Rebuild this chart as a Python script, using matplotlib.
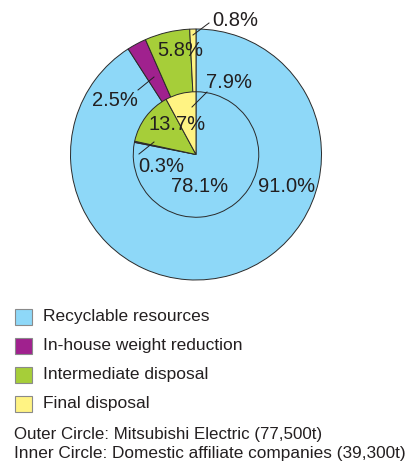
#!/usr/bin/python3

import matplotlib
matplotlib.use('Agg')
import matplotlib.pyplot as plt
from matplotlib.patches import Rectangle

# waste treatment breakdown (%)
categories = ['Recyclable resources', 'In-house weight reduction',
              'Intermediate disposal', 'Final disposal']
outer_values = [91.0, 2.5, 5.8, 0.8]   # Mitsubishi Electric
inner_values = [78.1, 0.3, 13.7, 7.9]  # domestic affiliates
colors = ['#8ED8F8', '#A0218E', '#A6CE39', '#FFF383']
footer = ['Outer Circle: Mitsubishi Electric (77,500t)',
          'Inner Circle: Domestic affiliate companies (39,300t)']

W, H = 408, 462
TXT = '#231F20'
EDGE = '#2a2a2a'


def main():
    '''draw the double pie'''
    plt.rcParams['font.family'] = ['Liberation Sans', 'DejaVu Sans']
    fig = plt.figure(figsize=(W / 100, H / 100), dpi=100)

    # pie axes: centre (196, 154.5) px, outer radius 125.5 px
    cx, cy, r = 196.0, 154.5, 125.5
    lim = 1.04
    half = lim * r
    ax = fig.add_axes([(cx - half) / W, (H - cy - half) / H,
                       2 * half / W, 2 * half / H])
    wp = dict(edgecolor=EDGE, linewidth=0.7)
    ax.pie(outer_values, colors=colors, radius=1.0, startangle=90,
           counterclock=False, wedgeprops=wp)
    ax.pie(inner_values, colors=colors, radius=0.5, startangle=90,
           counterclock=False, wedgeprops=wp)
    ax.set_xlim(-lim, lim)
    ax.set_ylim(-lim, lim)
    ax.set_aspect('equal')
    ax.axis('off')

    # overlay in pixel coordinates for labels, legend and footer
    ov = fig.add_axes([0, 0, 1, 1])
    ov.set_xlim(0, W)
    ov.set_ylim(H, 0)
    ov.axis('off')
    ov.patch.set_alpha(0)

    # percentage labels
    outer_pos = [(287, 187), (115, 100), (180, 51), (235, 20)]
    inner_pos = [(200, 187), (161, 166), (177, 125), (229, 83)]
    for v, (x, y) in zip(outer_values, outer_pos):
        ov.text(x, y, f'{v:.1f}%', fontsize=14.5, color=TXT,
                ha='center', va='center')
    for v, (x, y) in zip(inner_values, inner_pos):
        ov.text(x, y, f'{v:.1f}%', fontsize=14.5, color=TXT,
                ha='center', va='center')

    # leader lines
    leaders = [((209, 23), (193, 35)),
               ((207, 92), (192, 107)),
               ((138, 90), (154, 77)),
               ((139, 154), (154, 142))]
    for (x0, y0), (x1, y1) in leaders:
        ov.plot([x0, x1], [y0, y1], color=TXT, lw=0.7)

    # legend
    row_y = [317, 345.5, 374.5, 403.5]
    for name, c, y in zip(categories, colors, row_y):
        ov.add_patch(Rectangle((14.5, y - 8), 17, 16, facecolor=c,
                               edgecolor='#8a8a8a', lw=0.8))
        ov.text(43, y, name, fontsize=12.5, color=TXT,
                ha='left', va='center')

    # footer notes
    ov.text(14, 439, footer[0], fontsize=12.2, color=TXT,
            ha='left', va='baseline')
    ov.text(14, 458, footer[1], fontsize=12.4, color=TXT,
            ha='left', va='baseline')

    fig.savefig('out.png', dpi=100)


if __name__ == '__main__':
    main()
